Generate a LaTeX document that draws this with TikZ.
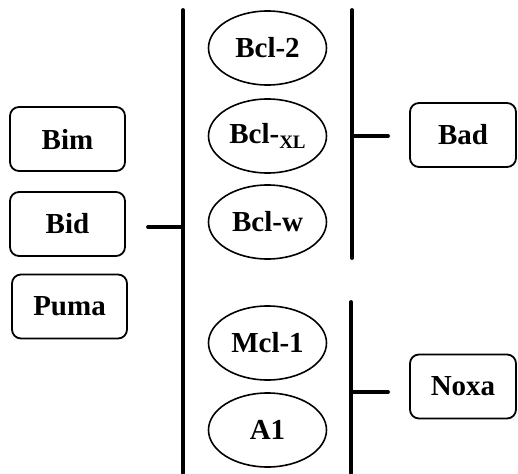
\documentclass[tikz,border=0pt]{standalone}
\usepackage{fontspec}
\setmainfont{Liberation Serif}
\usetikzlibrary{shapes.geometric}
\begin{document}
\begin{tikzpicture}[x=1pt,y=-1pt,
  lbl/.style={font=\fontsize{29}{32}\selectfont\bfseries},
  pbox/.style={draw,line width=1.8pt,rounded corners=9pt,lbl,minimum width=115pt,minimum height=64pt,inner sep=0pt},
  pell/.style={draw,line width=1.6pt,ellipse,lbl,minimum width=118pt,minimum height=74pt,inner sep=0pt},
  bar/.style={line width=3.8pt}]
\useasboundingbox (0,0) rectangle (518,473);
\node[pbox] (bim) at (67.5,139) {Bim};
\node[pbox] (bid) at (67.5,224) {Bid};
\node[pbox] (puma) at (69.5,306.5) {Puma};
\node[pell] (bcl2) at (267.5,48) {Bcl-2};
\node[pell] (bclxl) at (267.5,136) {Bcl-\raisebox{-0.35ex}{\fontsize{19}{21}\selectfont XL}};
\node[pell] (bclw) at (267.5,222) {Bcl-w};
\node[pell] (mcl1) at (267.5,343) {Mcl-1};
\node[pell] (a1) at (267.5,430) {A1};
\node[pbox,minimum width=106pt] (bad) at (463,135) {Bad};
\node[pbox,minimum width=106pt] (noxa) at (463,386.5) {Noxa};
% vertical bars
\coordinate (lt) at (183,10);
\coordinate (lb) at (183,473);
\coordinate (rt) at (352,10);
\coordinate (rb) at (352,258);
\coordinate (st) at (351,302);
\coordinate (sb) at (351,473);
\draw[bar,line cap=round] (lt) -- (lb);
\draw[bar,line cap=round] (rt) -- (rb);
\draw[bar,line cap=round] (st) -- (sb);
% stubs
\coordinate (lj) at (183,227);
\coordinate (lk) at (148,227);
\draw[bar,line cap=round] (lj) -- (lk);
\coordinate (bj) at (352,136);
\coordinate (bk) at (388,136);
\draw[bar,line cap=round] (bj) -- (bk);
\coordinate (nj) at (351,392);
\coordinate (nk) at (388,392);
\draw[bar,line cap=round] (nj) -- (nk);
\end{tikzpicture}
\end{document}
